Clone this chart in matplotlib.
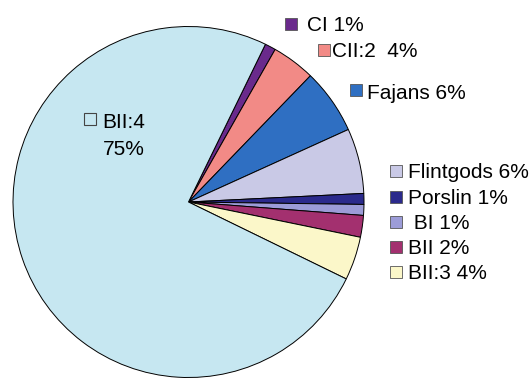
import matplotlib.pyplot as plt
from matplotlib.patches import Rectangle

# andel per godsgrupp (%)
labels = ["CI", "CII:2", "Fajans", "Flintgods", "Porslin", "BI", "BII", "BII:3", "BII:4"]
values = [1, 4, 6, 6, 1, 1, 2, 4, 75]
colors = ["#6a2a8c", "#f28a86", "#2f6fc2", "#c9c9e6", "#2b2a8c",
          "#9c9cd8", "#a3306f", "#fbf7c9", "#c6e7f1"]

# label layout in pixels (y from top): key-box left, box top, text left, baseline
label_pos = {
    "CI":        (285, 18, 307, 31),
    "CII:2":     (318, 44, 332, 57),
    "Fajans":    (350, 84, 367, 99),
    "Flintgods": (390, 165, 408, 178),
    "Porslin":   (390, 191, 408, 204),
    "BI":        (390, 216, 408, 229),
    "BII":       (390, 241, 408, 254),
    "BII:3":     (390, 266, 408, 279),
}

W, H = 532, 379
fig = plt.figure(figsize=(W / 100, H / 100), dpi=100)
ax = fig.add_axes([0, 0, 1, 1])

ax.pie(values, colors=colors, startangle=64, counterclock=False,
       center=(188.5, H - 202), radius=175.5,
       wedgeprops=dict(edgecolor="black", linewidth=0.7))
ax.set_xlim(0, W)
ax.set_ylim(0, H)
ax.set_aspect("equal")
ax.axis("off")

font = dict(family=["Liberation Sans", "DejaVu Sans"], fontsize=15, color="black")
box = 12

for lab, val, col in zip(labels, values, colors):
    if lab not in label_pos:
        continue
    bx, by, tx, base = label_pos[lab]
    ax.add_patch(Rectangle((bx, H - by - box), box, box, facecolor=col,
                           edgecolor="#555555", linewidth=0.6))
    name = " " + lab if lab == "BI" else lab
    gap = "  " if lab == "CII:2" else " "
    ax.text(tx, H - base, f"{name}{gap}{val}%", ha="left", va="baseline", **font)

# BII:4 label sits inside its own slice
ax.add_patch(Rectangle((84, H - 113 - box), box, box, facecolor=colors[-1],
                       edgecolor="#444444", linewidth=0.8))
ax.text(102, H - 128, labels[-1], ha="left", va="baseline", **font)
ax.text(124, H - 155, f"{values[-1]}%", ha="center", va="baseline", **font)

fig.savefig("out.png", dpi=100)
